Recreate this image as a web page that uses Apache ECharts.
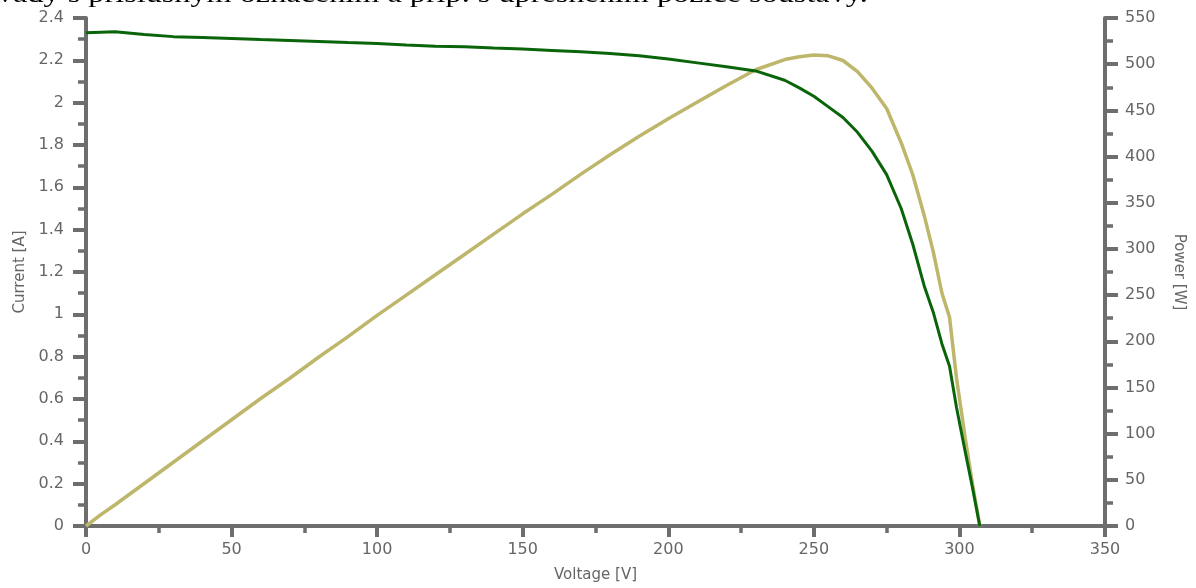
<!DOCTYPE html>
<html>
<head>
<meta charset="utf-8">
<script src="https://cdn.jsdelivr.net/npm/echarts@6/dist/echarts.min.js"></script>
<style>
  html, body { margin: 0; padding: 0; background: #fff; }
  #chart { width: 1196px; height: 588px; }
</style>
</head>
<body>
<div id="chart"></div>
<script>
// I-V and P-V characteristic of a PV string
const voltage = [0, 5, 10, 20, 30, 40, 50, 60, 70, 80, 90, 100, 110, 120, 130, 140, 150, 160, 170, 180, 190,
  200, 210, 220, 230, 240, 245, 250, 255, 260, 265, 270, 275, 280, 284, 288, 291, 294, 296.6, 299, 302, 304.5, 307];
const current = [2.330, 2.333, 2.335, 2.322, 2.312, 2.308, 2.303, 2.298, 2.294, 2.289, 2.284, 2.280, 2.272, 2.266,
  2.264, 2.258, 2.253, 2.247, 2.240, 2.232, 2.222, 2.206, 2.188, 2.170, 2.150, 2.106, 2.070, 2.030, 1.980, 1.930,
  1.860, 1.770, 1.660, 1.500, 1.330, 1.130, 1.010, 0.860, 0.755, 0.560, 0.350, 0.180, 0.000];
const power = [0, 12, 23, 46, 69, 92, 115, 138, 160, 183, 205, 228, 250, 272, 294, 316, 338, 359, 381, 402, 422,
  441, 459, 477, 494, 505, 508, 510, 509, 504, 492, 474, 452, 415, 380, 335, 297, 252, 226, 160, 95, 45, 0];

const captionText = 'vady s příslušným označením a příp. s upřesněním pozice soustavy.';

const axisGray = '#6e6e6e';
const labelGray = '#666666';
const sansFont = 'DejaVu Sans';

function pairs(xs, ys) {
  return xs.map((x, i) => [x, ys[i]]);
}

const chart = echarts.init(document.getElementById('chart'), null, { renderer: 'canvas' });

const valueAxisCommon = {
  axisLine: { show: true, lineStyle: { color: axisGray, width: 4 } },
  axisTick: { show: true, inside: false, length: 13, lineStyle: { color: axisGray, width: 4 } },
  minorTick: { show: true, splitNumber: 2, length: 8, lineStyle: { color: axisGray, width: 3.5 } },
  splitLine: { show: false },
  axisLabel: { color: labelGray, fontFamily: sansFont, fontSize: 16 },
  nameTextStyle: { color: labelGray, fontFamily: sansFont, fontSize: 15 }
};

chart.setOption({
  animation: false,
  backgroundColor: '#ffffff',
  grid: { left: 86, right: 91, top: 18, bottom: 62, containLabel: false },
  graphic: [{
    type: 'text',
    left: -3,
    top: -18,
    scaleX: 1.24,
    style: {
      text: captionText,
      font: '26px "Liberation Serif"',
      fill: '#000000'
    }
  }],
  xAxis: Object.assign({}, valueAxisCommon, {
    type: 'value',
    min: 0, max: 350, interval: 50,
    name: 'Voltage [V]',
    nameLocation: 'middle',
    nameGap: 42,
    axisTick: Object.assign({}, valueAxisCommon.axisTick, { length: 11 }),
    minorTick: Object.assign({}, valueAxisCommon.minorTick, { length: 7 }),
    axisLabel: Object.assign({}, valueAxisCommon.axisLabel, { margin: 16 })
  }),
  yAxis: [
    Object.assign({}, valueAxisCommon, {
      type: 'value',
      min: 0, max: 2.4, interval: 0.2,
      position: 'left',
      name: 'Current [A]',
      nameLocation: 'middle',
      nameRotate: 90,
      nameGap: 58,
      axisLabel: Object.assign({}, valueAxisCommon.axisLabel, { margin: 22, formatter: v => String(+v.toFixed(1)) })
    }),
    Object.assign({}, valueAxisCommon, {
      type: 'value',
      min: 0, max: 550, interval: 50,
      position: 'right',
      name: 'Power [W]',
      nameLocation: 'middle',
      nameRotate: -90,
      nameGap: 66,
      axisLabel: Object.assign({}, valueAxisCommon.axisLabel, { margin: 20 })
    })
  ],
  series: [
    {
      name: 'Power',
      type: 'line',
      yAxisIndex: 1,
      data: pairs(voltage, power),
      showSymbol: false,
      smooth: false,
      lineStyle: { color: '#bdb66b', width: 3.5 },
      z: 2
    },
    {
      name: 'Current',
      type: 'line',
      yAxisIndex: 0,
      data: pairs(voltage, current),
      showSymbol: false,
      smooth: false,
      lineStyle: { color: '#0a650a', width: 3 },
      z: 3
    }
  ]
});
</script>
</body>
</html>
